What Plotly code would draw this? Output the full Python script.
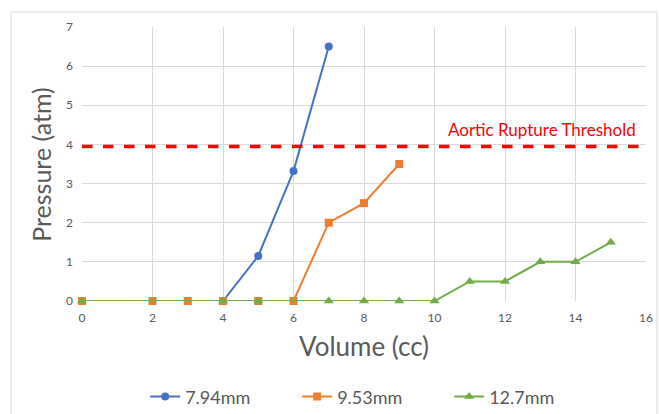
import plotly.graph_objects as go

x_794 = [4, 5, 6, 7]
y_794 = [0, 1.15, 3.32, 6.5]
x_953 = [0, 2, 3, 4, 5, 6, 7, 8, 9]
y_953 = [0, 0, 0, 0, 0, 0, 2, 2.5, 3.5]
x_127 = [0, 4, 5, 7, 8, 9, 10, 11, 12, 13, 14, 15]
y_127 = [0, 0, 0, 0, 0, 0, 0, 0.5, 0.5, 1, 1, 1.5]
threshold = 3.95
threshold_label = "Aortic Rupture Threshold"
x_ticks = [0, 2, 4, 6, 8, 10, 12, 14, 16]
y_ticks = [0, 1, 2, 3, 4, 5, 6, 7]

FONT = "Lato"
fig = go.Figure()
fig.add_trace(go.Scatter(x=x_794, y=y_794, name="7.94mm", mode="lines+markers", cliponaxis=False,
                         line=dict(color="#4472C4", width=2),
                         marker=dict(symbol="circle", size=8, color="#4472C4")))
fig.add_trace(go.Scatter(x=x_953, y=y_953, name="9.53mm", mode="lines+markers", cliponaxis=False,
                         line=dict(color="#ED7D31", width=2),
                         marker=dict(symbol="square", size=8, color="#ED7D31")))
fig.add_trace(go.Scatter(x=x_127, y=y_127, name="12.7mm", mode="lines+markers", cliponaxis=False,
                         line=dict(color="#70AD47", width=2),
                         marker=dict(symbol="triangle-up", size=9, color="#70AD47")))

fig.add_shape(type="line", xref="paper", yref="y", x0=0, x1=1.005, y0=threshold, y1=threshold,
              line=dict(color="#FF0000", width=3.5, dash="dash"))
fig.add_annotation(xref="paper", yref="y", x=0.985, y=threshold, yanchor="bottom", xanchor="right",
                   yshift=4, text=threshold_label, showarrow=False,
                   font=dict(family=FONT, size=17, color="#FF0000"))

# outer chart border
fig.add_shape(type="rect", xref="paper", yref="paper", x0=-0.126, x1=1.0195, y0=-0.5, y1=1.055,
              line=dict(color="#D9D9D9", width=1))

fig.add_annotation(xref="paper", yref="paper", x=0.5, y=-0.10, yanchor="top", showarrow=False,
                   text="Volume (cc)", font=dict(family=FONT, size=26, color="#595959"))
fig.add_annotation(xref="paper", yref="paper", x=-0.073, y=0.5, textangle=-90, xanchor="center",
                   yanchor="middle", showarrow=False, text="Pressure (atm)",
                   font=dict(family=FONT, size=25, color="#595959"))

fig.update_layout(
    width=659, height=414,
    margin=dict(l=82, r=13, t=27, b=113, autoexpand=False),
    paper_bgcolor="white", plot_bgcolor="white",
    font=dict(family=FONT, color="#595959"),
    showlegend=True,
    legend=dict(orientation="h", x=0.112, xanchor="left", y=-0.35, yanchor="middle",
                font=dict(family=FONT, size=18, color="#595959"), itemwidth=30,
                entrywidth=107, entrywidthmode="pixels"),
    xaxis=dict(range=[0, 16], tickvals=x_ticks, showgrid=True, gridcolor="#D9D9D9",
               zeroline=False, showline=False, tickfont=dict(size=12, color="#595959"),
               ticks="", ticklabelstandoff=8),
    yaxis=dict(range=[0, 7], tickvals=y_ticks, showgrid=True, gridcolor="#D9D9D9",
               zeroline=False, showline=False, tickfont=dict(size=12, color="#595959"),
               ticks="", ticklabelstandoff=8),
)
fig.write_html("out.html", config={"displayModeBar": False},
               post_script="document.body.style.margin='0';document.body.style.overflow='hidden';")
